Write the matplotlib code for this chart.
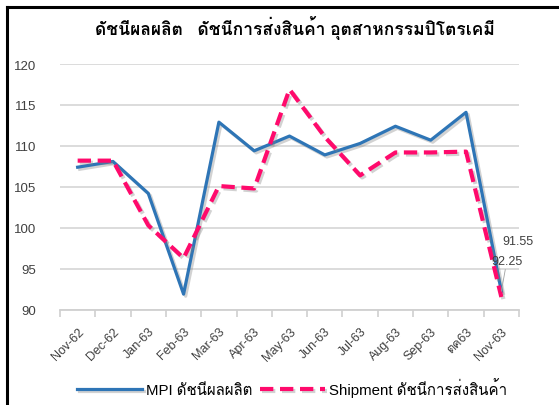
import matplotlib
matplotlib.use("Agg")
import matplotlib.pyplot as plt
import matplotlib.patheffects as pe
from matplotlib import font_manager as fm
from matplotlib.ft2font import FT2Font
from matplotlib.lines import Line2D

# ข้อมูล
months = ['Nov-62', 'Dec-62', 'Jan-63', 'Feb-63', 'Mar-63', 'Apr-63', 'May-63',
          'Jun-63', 'Jul-63', 'Aug-63', 'Sep-63', 'ตค63', 'Nov-63']
mpi = [107.4, 108.1, 104.2, 91.9, 112.9, 109.4, 111.2, 108.9, 110.3, 112.4, 110.7, 114.1, 92.25]
shipment = [108.2, 108.2, 100.3, 96.3, 105.1, 104.8, 116.9, 111.1, 106.4, 109.2, 109.2, 109.3, 91.55]

title = 'ดัชนีผลผลิต   ดัชนีการส่งสินค้า อุตสาหกรรมปิโตรเคมี'
mpi_label = 'MPI ดัชนีผลผลิต'
ship_label = 'Shipment ดัชนีการส่งสินค้า'

# หาฟอนต์ที่มีอักษรไทย
thai_font = None
for f in fm.fontManager.ttflist:
    try:
        if 0x0E01 in FT2Font(f.fname).get_charmap():
            thai_font = f.name
            break
    except Exception:
        pass
families = ['Liberation Sans'] + ([thai_font] if thai_font else []) + ['DejaVu Sans']
plt.rcParams['font.family'] = families

W, H = 559, 406
fig = plt.figure(figsize=(W / 100, H / 100), dpi=100)
ax = fig.add_axes([60 / W, 1 - 310.7 / H, (519 - 60) / W, (310.7 - 65) / H])

x = list(range(len(months)))
shadow = [pe.SimpleLineShadow(offset=(1.5, -1.5), shadow_color='gray', alpha=0.35), pe.Normal()]
ax.plot(x, mpi, color='#2e75b6', lw=2.3, path_effects=shadow, zorder=3, label=mpi_label)
ax.plot(x, shipment, color='#ff0a6c', lw=3.0, dashes=(3.2, 1.6), path_effects=shadow,
        zorder=3, label=ship_label)

ax.set_ylim(90, 120)
ax.set_yticks(range(90, 121, 5))
ax.set_xlim(-0.5, len(months) - 0.5)
ax.set_xticks(x)
ax.set_xticklabels(months, rotation=45, ha='right', rotation_mode='anchor')
ax.set_xticks([i - 0.5 for i in range(len(months) + 1)], minor=True)
ax.tick_params(axis='x', which='major', length=0, pad=11, labelsize=9, labelcolor='#404040')
ax.tick_params(axis='x', which='minor', length=5, color='#d0d0d0', width=1.2)
ax.tick_params(axis='y', length=0, pad=17, labelsize=9.5, labelcolor='#404040')
ax.grid(axis='y', color='#d9d9d9', lw=1.3)
ax.set_axisbelow(True)
for s in ['top', 'right', 'left']:
    ax.spines[s].set_visible(False)
ax.spines['bottom'].set_color('#d0d0d0')
ax.spines['bottom'].set_linewidth(1.3)

# ป้ายค่าจุดสุดท้าย
ax.annotate('92.25', xy=(12, mpi[-1]), xytext=(4, 22), textcoords='offset points',
            ha='center', va='center', fontsize=9, color='#404040',
            arrowprops=dict(arrowstyle='-', color='#a0a0a0', lw=0.6, shrinkA=0, shrinkB=0))
ax.annotate('91.55', xy=(12, shipment[-1]), xytext=(12, 40), textcoords='offset points',
            ha='center', va='center', fontsize=9, color='#404040')

fig.text(0.528, 1 - 28 / H, title, ha='center', va='center', fontsize=12.5, fontweight='bold')

fig.legend(loc='center', bbox_to_anchor=(0.523, 1 - 388 / H), ncol=2, frameon=False,
           fontsize=10.8, handlelength=4.3, columnspacing=0.5, handletextpad=0.3)

# กรอบด้านซ้ายและด้านบน
fig.add_artist(Line2D([7 / W, 7 / W], [0, 1 - 8 / H], transform=fig.transFigure, color='black', lw=2.2))
fig.add_artist(Line2D([7 / W, 1], [1 - 8 / H, 1 - 8 / H], transform=fig.transFigure, color='black', lw=2.2))

fig.savefig('out.png', dpi=100)
